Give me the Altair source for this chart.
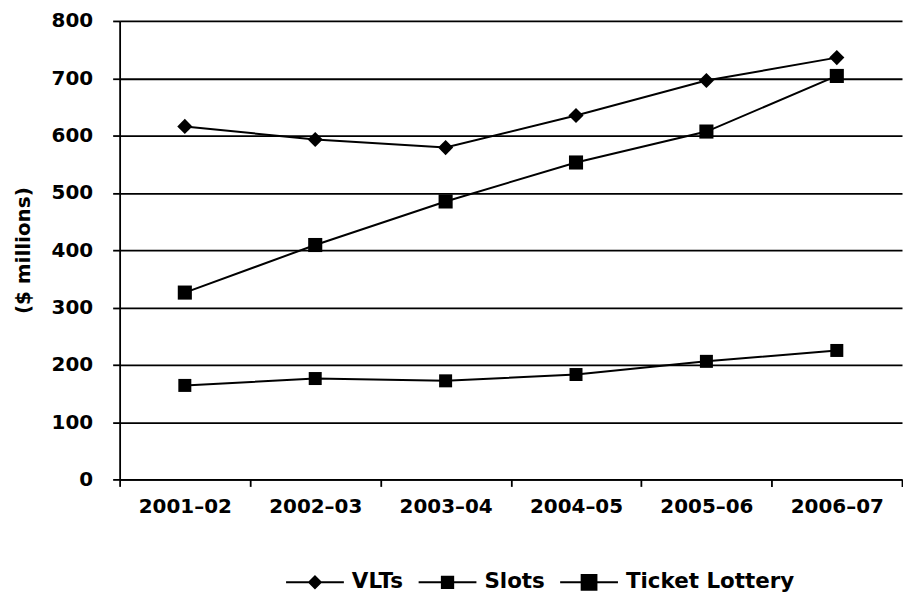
import altair as alt
import pandas as pd

years = ["2001–02", "2002–03", "2003–04", "2004–05", "2005–06", "2006–07"]
series_names = ["VLTs", "Slots", "Ticket Lottery"]
vlts = [616, 593, 579, 635, 696, 736]
slots = [326, 409, 485, 553, 607, 704]
ticket = [164, 176, 172, 183, 206, 225]
y_ticks = [0, 100, 200, 300, 400, 500, 600, 700, 800]

rows = []
for name, vals in zip(series_names, [vlts, slots, ticket]):
    for yr, v in zip(years, vals):
        rows.append({"year": yr, "series": name, "value": v})
df = pd.DataFrame(rows)

FONT = "DejaVu Sans"
FS = 20

x_enc = alt.X(
    "year:N",
    sort=years,
    scale=alt.Scale(type="band", paddingInner=0, paddingOuter=0),
    axis=alt.Axis(
        title=None, labelAngle=0, tickBand="extent", tickSize=7, tickWidth=1.8,
        tickColor="black", domainColor="black", domainWidth=1.8,
        labelFont=FONT, labelFontSize=FS, labelFontWeight="bold", labelColor="black",
        labelPadding=10, grid=False,
    ),
)
y_enc = alt.Y(
    "value:Q",
    scale=alt.Scale(domain=[0, 800], nice=False),
    axis=alt.Axis(
        values=y_ticks, title="($ millions)", grid=True, gridColor="black", gridWidth=1.8,
        tickColor="black", tickWidth=1.8, tickSize=7, domainColor="black", domainWidth=1.8,
        labelFont=FONT, labelFontSize=FS, labelFontWeight="bold", labelColor="black",
        labelPadding=20, titleFont=FONT, titleFontSize=FS, titleFontWeight="bold",
        titleColor="black", titlePadding=18,
    ),
)

base = alt.Chart(df).encode(x=x_enc, y=y_enc)

lines = base.mark_line(color="black", strokeWidth=2).encode(detail="series:N")

pts = base.mark_point(filled=True, color="black", opacity=1, strokeWidth=0).encode(
    shape=alt.Shape("series:N", scale=alt.Scale(domain=series_names, range=["diamond", "square", "square"]), legend=None),
    size=alt.Size("series:O", sort=series_names, scale=alt.Scale(domain=series_names, range=[230, 170, 260]), legend=None),
)

# legend glyphs: a thin filled bar (the line) plus the marker, in unit coordinates
bar = "M-1,-0.035L1,-0.035L1,0.035L-1,0.035Z"
leg_paths = [
    bar + "M0,-0.25L0.25,0L0,0.25L-0.25,0Z",
    bar + "M-0.23,-0.23L0.23,-0.23L0.23,0.23L-0.23,0.23Z",
    bar + "M-0.29,-0.29L0.29,-0.29L0.29,0.29L-0.29,0.29Z",
]
legend_layer = base.mark_point(filled=True, color="black", strokeWidth=0, opacity=0).encode(
    shape=alt.Shape(
        "series:N",
        scale=alt.Scale(domain=series_names, range=leg_paths),
        legend=alt.Legend(
            title=None, orient="none", direction="horizontal", legendX=167, legendY=534,
            symbolSize=3364, symbolOpacity=1, symbolFillColor="black",
            symbolStrokeWidth=0, labelFont=FONT, labelFontSize=21.5, labelFontWeight="bold",
            labelColor="black", labelOffset=8, columnPadding=15, padding=0, labelLimit=0,
        ),
    )
)

chart = (
    alt.layer(lines, pts, legend_layer)
    .resolve_scale(shape="independent", size="independent")
    .properties(width=785, height=460, padding={"left": 5, "top": 2, "right": 0, "bottom": 0})
    .configure_view(stroke=None)
)

chart.save("out.html", embed_options={"renderer": "svg", "actions": False})
